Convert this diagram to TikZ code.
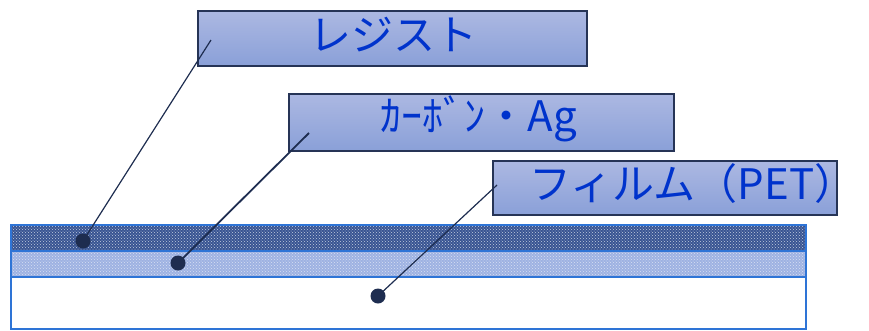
\documentclass[tikz,border=0pt]{standalone}
\usepackage{fontspec}
\newfontfamily\jpfont{Noto Sans CJK JP}
\usetikzlibrary{patterns}
\definecolor{labtxt}{RGB}{0,51,204}
\definecolor{boxline}{RGB}{38,52,86}
\definecolor{boxtop}{RGB}{172,184,226}
\definecolor{boxbot}{RGB}{138,160,216}
\definecolor{resistc}{RGB}{56,84,146}
\definecolor{carbonc}{RGB}{158,178,226}
\definecolor{edgec}{RGB}{46,116,214}
\definecolor{leadc}{RGB}{30,45,80}
\begin{document}
\begin{tikzpicture}[x=1pt,y=-1pt,
  label box/.style={draw=boxline,line width=1.5pt,top color=boxtop,bottom color=boxbot,anchor=north west,inner sep=0pt},
  lead/.style={draw=leadc,line width=1.2pt},
  dotc/.style={fill=leadc,circle,inner sep=0pt,minimum size=15pt},
  lbl/.style={text=labtxt,font=\jpfont\fontsize{42}{42}\selectfont}]
\useasboundingbox (0,0) rectangle (869,330);
% layers
\fill[resistc] (11,225) rectangle (806,251);
\fill[pattern=crosshatch dots,pattern color=white!70!resistc] (11,225) rectangle (806,251);
\fill[carbonc] (11,251) rectangle (806,277);
\fill[pattern=crosshatch dots,pattern color=white!60!carbonc] (11,251) rectangle (806,277);
\draw[edgec,line width=1.5pt] (11,225) rectangle (806,329);
\draw[edgec,line width=1.5pt] (11,251) -- (806,251);
\draw[edgec,line width=1.5pt] (11,277) -- (806,277);
% label boxes
\node[label box,minimum width=389pt,minimum height=55pt] (rb) at (197,10) {};
\node[lbl] (rt) at (393,35) {レジスト};
\node[label box,minimum width=385pt,minimum height=57pt] (cb) at (288,93) {};
\node[lbl] (ct) at (479,119) {ｶｰﾎﾞﾝ・Ag};
\node[label box,minimum width=344pt,minimum height=54pt] (fb) at (492,160) {};
\node[lbl] (ft) at (693,184) {フィルム（PET）};
% leaders
\node[dotc] (d1) at (83,241) {};
\node[dotc] (d2) at (178,263) {};
\node[dotc] (d3) at (378,296) {};
\coordinate (s1) at (211,40);
\coordinate (s2) at (309,133);
\coordinate (s3) at (497,185);
\draw[lead] (s1) -- (d1.center);
\draw[lead,line width=1.8pt] (s2) -- (d2.center);
\draw[lead] (s3) -- (d3.center);
\end{tikzpicture}
\end{document}
